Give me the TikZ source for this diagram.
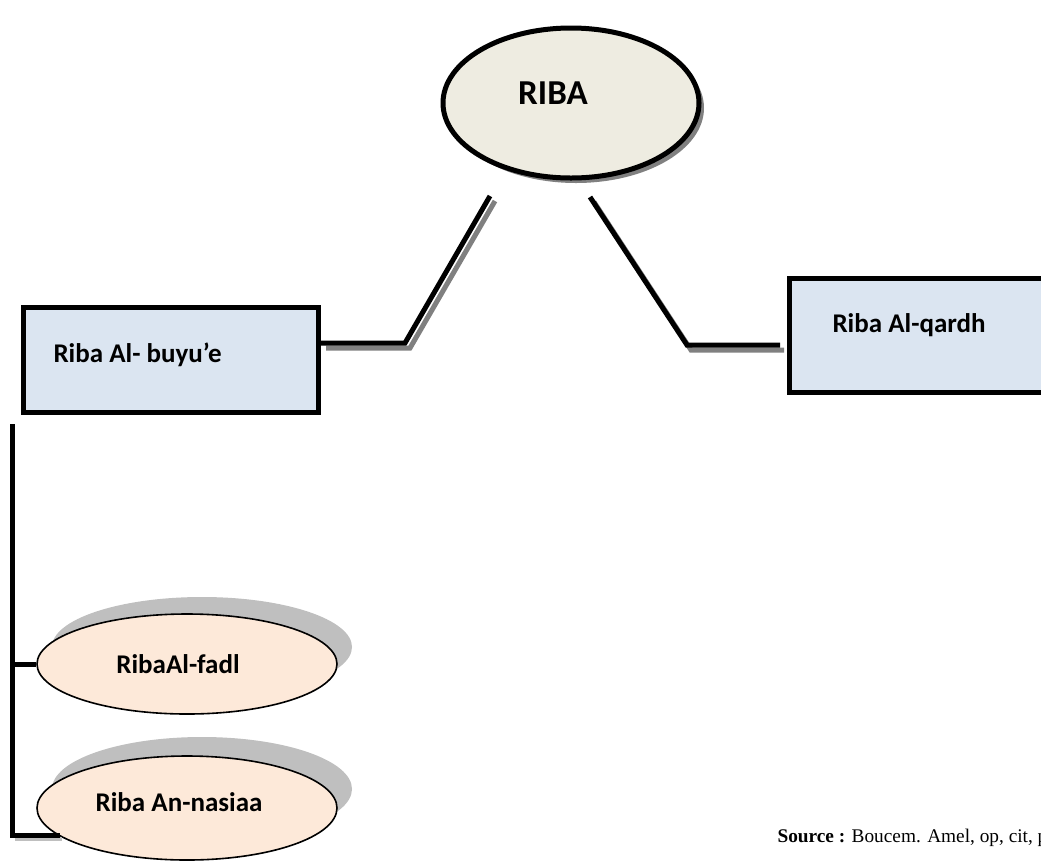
\documentclass[tikz,border=0pt]{standalone}
\usepackage{fontspec}
\setmainfont{Liberation Serif}
\newfontfamily\calib{Carlito}
\usetikzlibrary{shapes.geometric}

\definecolor{ribafill}{HTML}{EEECE1}
\definecolor{boxfill}{HTML}{DBE5F1}
\definecolor{ovalfill}{HTML}{FDE9D9}
\definecolor{darkshadow}{HTML}{808080}
\definecolor{lightshadow}{HTML}{BFBFBF}

\tikzset{
  linkline/.style={line width=5pt, line join=miter},
  linkshadow/.style={line width=5pt, draw=darkshadow},
  boxnode/.style={draw, line width=5pt, fill=boxfill},
  ovalnode/.style={ellipse, draw, line width=1.6pt, fill=ovalfill,
                   minimum width=300pt, minimum height=100pt, inner sep=0pt},
  ovalshadow/.style={ellipse, fill=lightshadow,
                   minimum width=300pt, minimum height=100pt, inner sep=0pt},
  label text/.style={font=\calib\bfseries\fontsize{27}{31}\selectfont},
}

\begin{document}
\begin{tikzpicture}[x=1pt, y=-1pt]
  \useasboundingbox (0,0) rectangle (1041,863);
  \clip (0,0) rectangle (1041,863);

  % main oval with its drop shadow
  \node[ellipse, fill=darkshadow, minimum width=256pt, minimum height=150pt, inner sep=0pt]
    at (576,108) {};
  \node (riba) [ellipse, draw, line width=5pt, fill=ribafill,
                minimum width=256pt, minimum height=150pt, inner sep=0pt] at (571,103) {};
  \node (ribatext) [font=\calib\bfseries\fontsize{35}{40}\selectfont] at (553,93) {RIBA};

  % the two branch boxes
  \path[boxnode] (23.5,307.5) rectangle (318.5,412.5);
  \node (buyue) [label text, anchor=base west] at (50,362) {Riba Al- buyu’e};
  \coordinate (buyueR) at (321,343);
  \path[boxnode] (789.5,278.5) rectangle (1060,392.5);
  \node (qardh) [label text, anchor=base west] at (829,332) {Riba Al-qardh};
  \coordinate (qardhL) at (780,345);

  % connectors from the main oval to the boxes
  \coordinate (leftTop) at (490,196);
  \coordinate (leftBend) at (405,343);
  \coordinate (rightTop) at (590,197);
  \coordinate (rightBend) at (687,345);
  \draw[linkshadow] ([shift={(5,5)}]leftTop) -- ([shift={(5,5)}]leftBend) -- ([shift={(5,5)}]buyueR);
  \draw[linkshadow] ([shift={(4,5)}]rightTop) -- ([shift={(4,5)}]rightBend) -- ([shift={(4,5)}]qardhL);
  \draw[linkline] (leftTop) -- (leftBend) -- (buyueR);
  \draw[linkline] (rightTop) -- (rightBend) -- (qardhL);

  % the two sub-types under Riba Al-buyu'e
  \node[ovalshadow] at (202,647) {};
  \node (fadl) [ovalnode] at (187,664) {};
  \node[ovalshadow, minimum height=104pt] at (202,789) {};
  \node (nasiaa) [ovalnode, minimum height=104pt] at (187,808) {};
  \node[label text] at (178,664) {RibaAl-fadl};
  \node[label text] at (179,802) {Riba An-nasiaa};

  % bracket joining them
  \coordinate (trunkTop) at (12.5,424);
  \coordinate (trunkBot) at (12.5,835);
  \coordinate (fadlJoin) at (12.5,664);
  \coordinate (nasiaaJoin) at (60,835);
  \draw[line width=4pt, draw=lightshadow] (15,838.5) -- (62,838.5);
  \draw[line width=5pt] (trunkTop) -- (trunkBot) -- (nasiaaJoin);
  \draw[line width=5pt] (fadlJoin) -- (fadl.west);

  % reference line
  \node (source) [anchor=base west, font=\fontsize{19.3}{23}\selectfont] at (774,842)
    {\textbf{Source :} Boucem. Amel, op, cit, p};
\end{tikzpicture}
\end{document}
